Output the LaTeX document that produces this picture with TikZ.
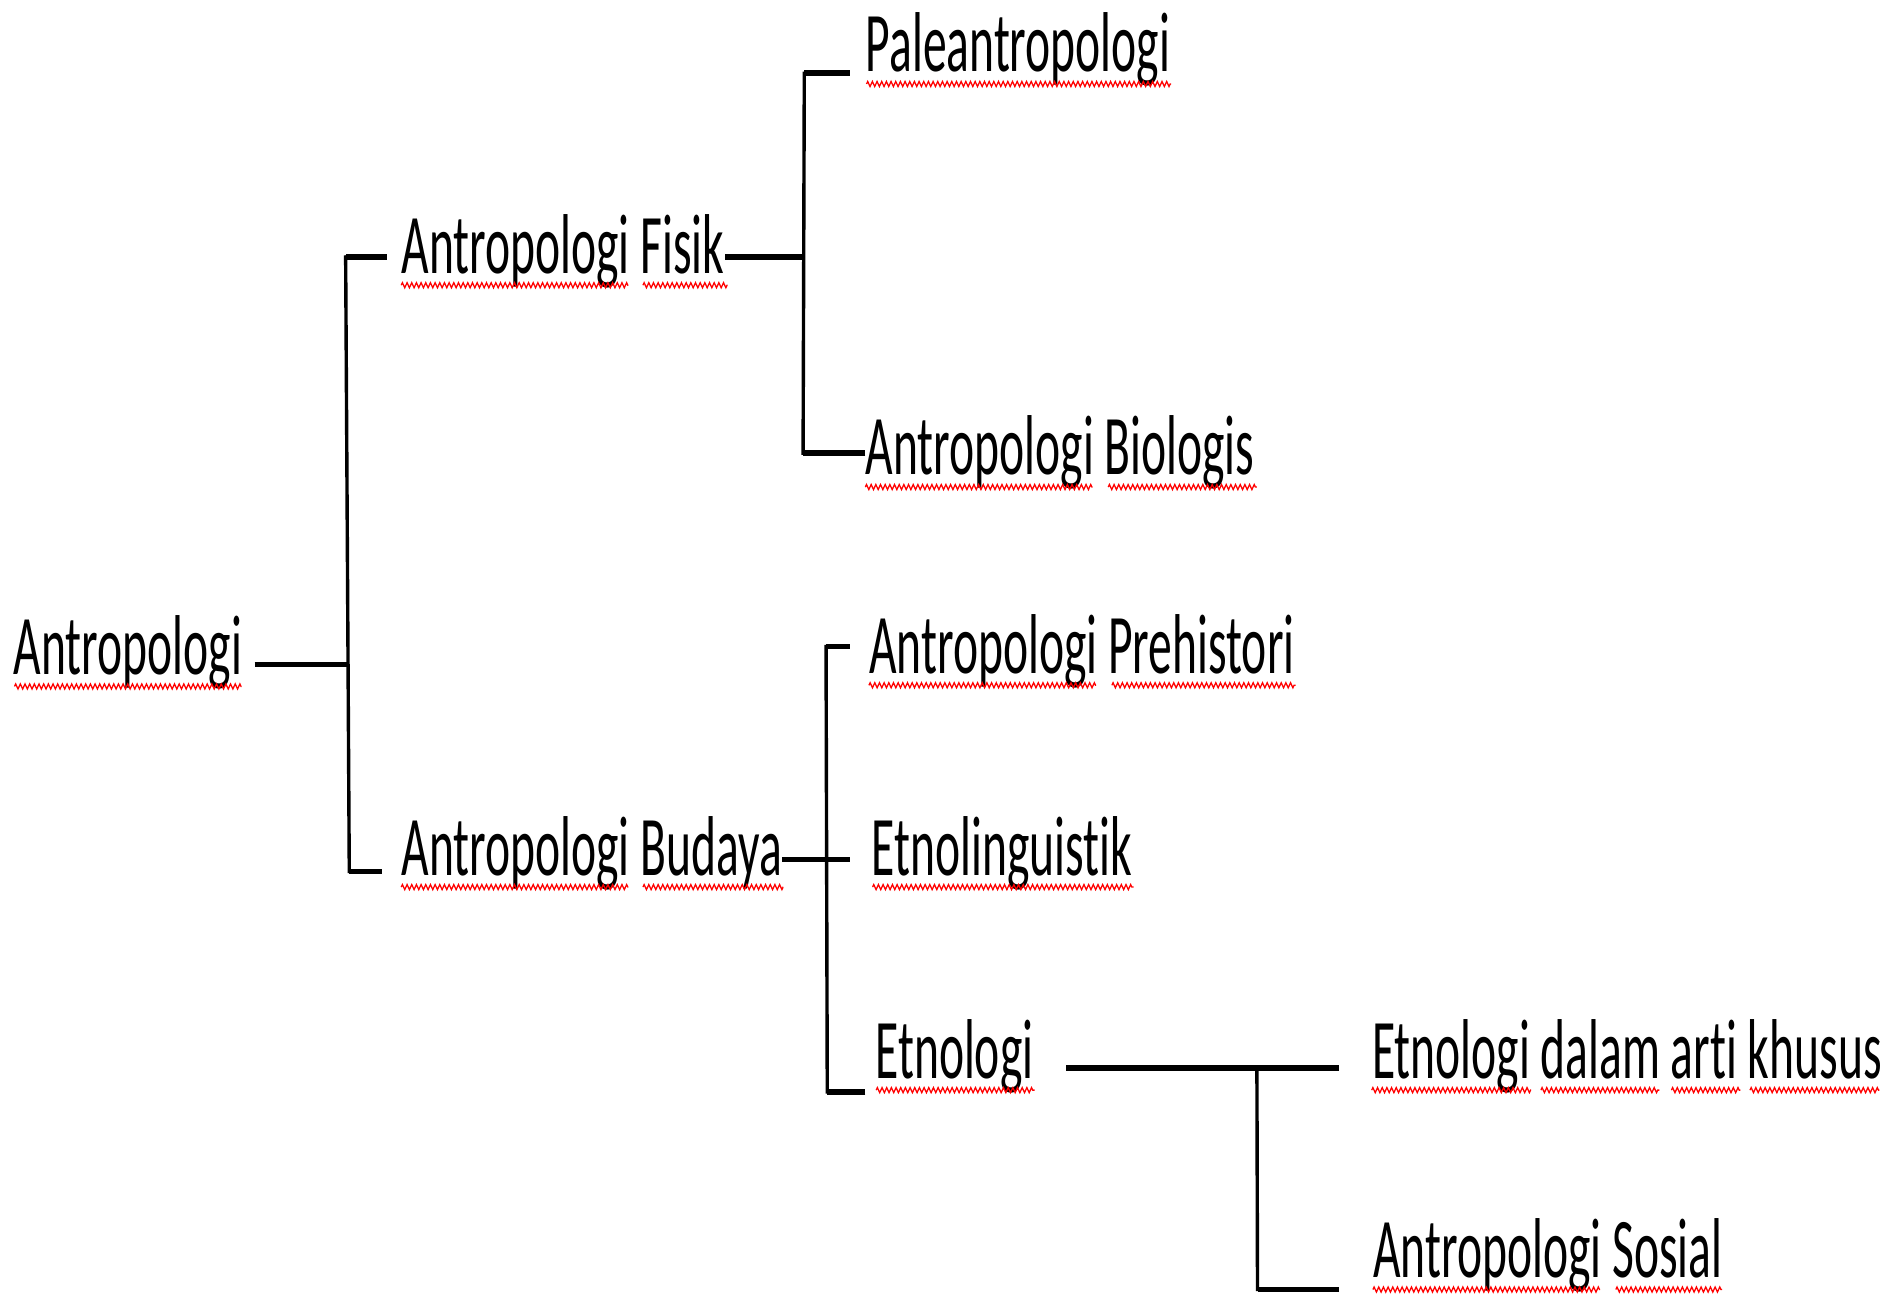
\documentclass[tikz,border=0pt]{standalone}
\usepackage{fontspec}
\setmainfont{Carlito}[FakeStretch=0.56, Ligatures=NoCommon, Contextuals=NoAlternate]
\usetikzlibrary{decorations.pathmorphing}

\tikzset{
	lbl/.style={anchor=base west, inner sep=0pt, font=\fontsize{40}{48}\selectfont},
	hline/.style={line width=2.6pt},
	vline/.style={line width=1.6pt, line cap=rect},
	wave/.style={red, line width=0.6pt, decorate, decoration={zigzag, segment length=2.2pt, amplitude=1.2pt}}
}

\begin{document}
\begin{tikzpicture}[x=0.02cm, y=-0.02cm]
	\useasboundingbox (0,0) rectangle (1568,1073);

	\node[lbl] (root) at (11,558) {Antropologi};
	\node[lbl] (fisik) at (332,226) {Antropologi Fisik};
	\node[lbl] (budaya) at (332,724) {Antropologi Budaya};
	\node[lbl] (paleo) at (716,59.5) {Paleantropologi};
	\node[lbl] (biologis) at (716,393) {Antropologi Biologis};
	\node[lbl] (prehistori) at (719,557) {Antropologi Prehistori};
	\node[lbl] (linguistik) at (721,724) {Etnolinguistik};
	\node[lbl] (etnologi) at (724,892) {Etnologi};
	\node[lbl] (khusus) at (1135,892) {Etnologi dalam arti khusus};
	\node[lbl] (sosial) at (1136,1057) {Antropologi Sosial};

	\foreach \nd/\a/\b in {root/1/189, fisik/0/188, fisik/200/270,
		budaya/0/188, budaya/200/316, paleo/1/253,
		biologis/0/188, biologis/201/324, prehistori/0/188, prehistori/201/353,
		linguistik/1/217, etnologi/1/132,
		khusus/0/132, khusus/140/238, khusus/248/305, khusus/313/420,
		sosial/0/188, sosial/201/289}
		\draw[wave] (\nd.base west) ++(\a,10) -- ++(\b-\a,0);

	\coordinate (s1m) at (287.5,550);
	\coordinate (s1t) at (286,212.6);
	\coordinate (s1b) at (289,721);
	\draw[hline] (root.east |- s1m) ++(10,0) -- (s1m);
	\draw[vline] (s1t) -- (s1b);
	\draw[hline] (fisik.west |- s1t) ++(-12,0) -- (s1t);
	\draw[hline] (budaya.west |- s1b) ++(-16,0) -- (s1b);

	\coordinate (f2m) at (665,212.6);
	\coordinate (f2t) at (665.5,60.6);
	\coordinate (f2b) at (664.5,375);
	\draw[hline] (fisik.east |- f2m) -- (f2m);
	\draw[vline] (f2t) -- (f2b);
	\draw[hline] (paleo.west |- f2t) ++(-13,0) -- (f2t);
	\draw[hline] (biologis.west |- f2b) -- (f2b);

	\coordinate (b2m) at (684,711);
	\coordinate (b2t) at (683.5,535);
	\coordinate (b2b) at (684.5,903.5);
	\draw[hline] (linguistik.west |- b2m) ++(-18,0) -- (budaya.east |- b2m);
	\draw[vline] (b2t) -- (b2b);
	\draw[hline] (prehistori.west |- b2t) ++(-16,0) -- (b2t);
	\draw[hline] (etnologi.west |- b2b) ++(-8,0) -- (b2b);

	\coordinate (e3t) at (1040,883.5);
	\coordinate (e3b) at (1040.5,1067);
	\draw[hline] (etnologi.east |- e3t) ++(27,0) -- (e3t);
	\draw[vline] (e3t) -- (e3b);
	\draw[hline] (khusus.west |- e3t) ++(-27,0) -- (e3t);
	\draw[hline] (sosial.west |- e3b) ++(-28,0) -- (e3b);
\end{tikzpicture}
\end{document}
